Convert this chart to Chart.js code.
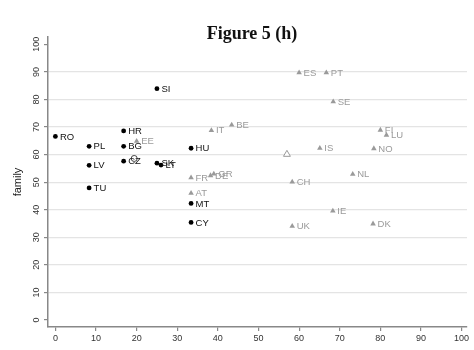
<!DOCTYPE html>
<html>
<head>
<meta charset="utf-8">
<script src="https://cdn.jsdelivr.net/npm/chart.js@4/dist/chart.umd.min.js"></script>
<style>
  html, body { margin: 0; padding: 0; background: #ffffff; }
  #wrap { width: 474px; height: 350px; }
</style>
</head>
<body>
<div id="wrap"><canvas id="c" width="474" height="350"></canvas></div>
<script>
// Group A countries (filled circles)
const groupANames = ['RO','PL','LV','TU','HR','BG','CZ','SI','SK','LT','HU','MT','CY'];
const groupAX = [0, 8.3, 8.3, 8.3, 16.8, 16.8, 16.8, 25.0, 25.0, 26.0, 33.4, 33.4, 33.4];
const groupAY = [66.6, 63.0, 56.1, 47.9, 68.6, 63.0, 57.6, 83.9, 56.9, 56.2, 62.3, 42.3, 35.4];

// Group B countries (triangles)
const groupBNames = ['EE','IT','BE','FR','DE','GR','AT','CH','UK','IS','ES','PT','SE','FI','LU','NO','NL','IE','DK'];
const groupBX = [20.0, 38.4, 43.4, 33.4, 38.2, 39.0, 33.4, 58.3, 58.3, 65.1, 60.0, 66.7, 68.4, 80.0, 81.5, 78.4, 73.2, 68.3, 78.2];
const groupBY = [64.9, 68.8, 70.8, 51.6, 52.4, 53.0, 46.0, 50.1, 34.0, 62.3, 89.7, 89.7, 79.2, 68.9, 67.1, 62.2, 52.9, 39.6, 34.9];

// Group averages (hollow markers)
const meanAX = [19.4];
const meanAY = [58.6];
const meanBX = [57.0];
const meanBY = [60.1];

const tickValues = [0, 10, 20, 30, 40, 50, 60, 70, 80, 90, 100];
const titleText = 'Figure 5 (h)';
const yTitle = 'family';

const FONT = '"Liberation Sans", Arial, Helvetica, sans-serif';
const GREY = '#9a9a9a';
const AXIS = '#888888';

function pts(xs, ys) { return xs.map((x, i) => ({ x: x, y: ys[i] })); }

// Country code next to each marker
const pointLabels = {
  id: 'pointLabels',
  afterDatasetsDraw(chart) {
    const ctx = chart.ctx;
    chart.data.datasets.forEach((ds, di) => {
      if (!ds.names) return;
      const meta = chart.getDatasetMeta(di);
      ctx.save();
      ctx.font = '9.5px ' + FONT;
      ctx.fillStyle = ds.labelColor;
      ctx.textAlign = 'left';
      ctx.textBaseline = 'middle';
      meta.data.forEach((el, i) => {
        ctx.fillText(ds.names[i], el.x + 4.5, el.y + 0.5);
      });
      ctx.restore();
    });
  }
};

// Vertical y tick labels and the chart heading
const decorations = {
  id: 'decorations',
  afterDraw(chart) {
    const ctx = chart.ctx;
    const ys = chart.scales.y;
    ctx.save();
    ctx.font = '9px ' + FONT;
    ctx.fillStyle = '#333';
    ctx.textAlign = 'center';
    ctx.textBaseline = 'alphabetic';
    ys.ticks.forEach(t => {
      const py = ys.getPixelForValue(t.value);
      ctx.save();
      ctx.translate(ys.right - 9.5, py);
      ctx.rotate(-Math.PI / 2);
      ctx.fillText(String(t.value), 0, 0);
      ctx.restore();
    });
    ctx.font = 'bold 18px "Liberation Serif", "Times New Roman", serif';
    ctx.fillStyle = '#111';
    ctx.textAlign = 'center';
    ctx.fillText(titleText, 252, 39);
    ctx.restore();
  }
};

new Chart(document.getElementById('c'), {
  type: 'scatter',
  data: {
    datasets: [
      {
        data: pts(groupAX, groupAY), names: groupANames, labelColor: '#111',
        pointStyle: 'circle', pointRadius: 2.4, pointHoverRadius: 2.4,
        backgroundColor: '#000', borderColor: '#000', borderWidth: 0
      },
      {
        data: pts(groupBX, groupBY), names: groupBNames, labelColor: GREY,
        pointStyle: 'triangle', pointRadius: 3.2, pointHoverRadius: 3.2,
        backgroundColor: GREY, borderColor: GREY, borderWidth: 0
      },
      {
        data: pts(meanAX, meanAY),
        pointStyle: 'circle', pointRadius: 3, pointHoverRadius: 3,
        backgroundColor: '#fff', borderColor: '#333', borderWidth: 0.9
      },
      {
        data: pts(meanBX, meanBY),
        pointStyle: 'triangle', pointRadius: 4, pointHoverRadius: 4,
        backgroundColor: '#fff', borderColor: GREY, borderWidth: 1
      }
    ]
  },
  options: {
    responsive: false,
    animation: false,
    events: [],
    layout: { padding: { left: 0, right: 7, top: 37, bottom: 0 } },
    plugins: { legend: { display: false }, tooltip: { enabled: false }, title: { display: false } },
    scales: {
      x: {
        type: 'linear',
        min: -1.82, max: 101.33,
        afterBuildTicks: s => { s.ticks = tickValues.map(v => ({ value: v })); },
        afterFit: s => { s.height = 23; },
        border: { display: true, color: AXIS, width: 1.5 },
        grid: { display: true, drawOnChartArea: false, drawTicks: true, tickLength: 4, tickColor: AXIS, lineWidth: 1.2 },
        ticks: { font: { family: FONT, size: 9 }, color: '#333', padding: 2, maxRotation: 0, minRotation: 0 }
      },
      y: {
        type: 'linear',
        min: -2.54, max: 102.66,
        afterBuildTicks: s => { s.ticks = tickValues.map(v => ({ value: v })); },
        afterFit: s => { s.width = 48; },
        border: { display: true, color: AXIS, width: 1.5 },
        grid: {
          display: true, drawOnChartArea: true, drawTicks: true, tickLength: 4, tickColor: AXIS,
          lineWidth: 1.2,
          color: c => (c.tick && c.tick.value > 0 && c.tick.value < 100) ? '#e4e4e4' : 'rgba(0,0,0,0)'
        },
        ticks: { display: false },
        title: { display: true, text: yTitle, color: '#222', font: { family: FONT, size: 11 }, padding: { top: 11, bottom: 0 } }
      }
    }
  },
  plugins: [pointLabels, decorations]
});
</script>
</body>
</html>
